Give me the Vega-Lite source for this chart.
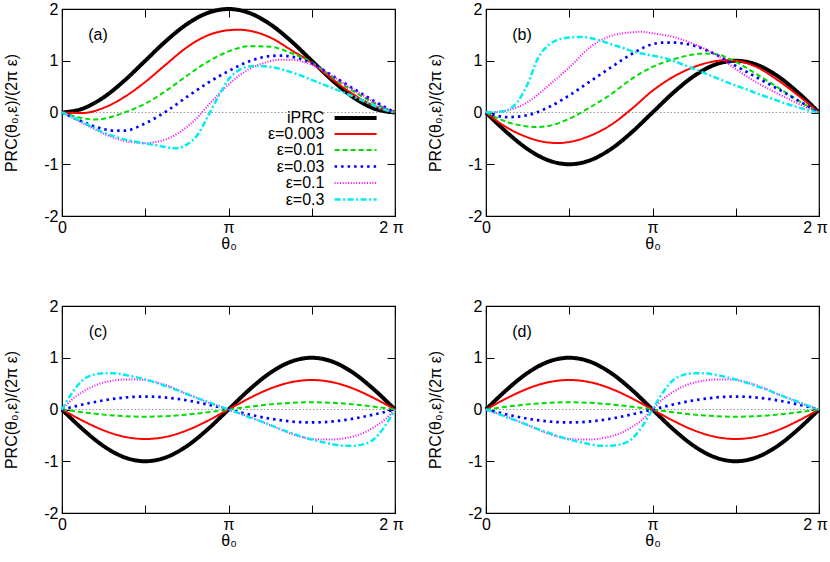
{
"$schema": "https://vega.github.io/schema/vega-lite/v6.json",
"padding": {"left": 3, "top": 0, "right": 0, "bottom": 0},
"background": "white",
"config": {
  "font": "Liberation Sans",
  "view": {"stroke": "black", "strokeWidth": 1.2},
  "axis": {"domain": false, "grid": false, "tickSize": 8, "offset": -8, "tickColor": "black", "tickWidth": 1, "labelFont": "Liberation Sans", "labelFontSize": 16, "labelColor": "black", "titleFont": "Liberation Sans", "titleFontSize": 16, "titleFontWeight": "normal", "titleColor": "black", "labelOverlap": false, "labelFlush": false, "labelBound": false},
  "legend": {"rowPadding": 0, "labelAlign": "right", "labelFontSize": 16, "labelFont": "Liberation Sans", "labelColor": "black", "labelLimit": 0, "padding": 0}
},
"datasets": {
"a": [
{"s":0,"x":0,"y":0},{"s":0,"x":0.125,"y":0.0761},{"s":0,"x":0.25,"y":0.2929},{"s":0,"x":0.375,"y":0.6173},{"s":0,"x":0.5,"y":1},{"s":0,"x":0.625,"y":1.3827},{"s":0,"x":0.75,"y":1.7071},{"s":0,"x":0.875,"y":1.9239},{"s":0,"x":1,"y":2},{"s":0,"x":1.125,"y":1.9239},{"s":0,"x":1.25,"y":1.7071},{"s":0,"x":1.375,"y":1.3827},{"s":0,"x":1.5,"y":1},{"s":0,"x":1.625,"y":0.6173},{"s":0,"x":1.75,"y":0.2929},{"s":0,"x":1.875,"y":0.0761},{"s":0,"x":2,"y":0},
{"s":1,"x":0,"y":0},{"s":1,"x":0.125,"y":-0.01},{"s":1,"x":0.25,"y":0.09},{"s":1,"x":0.375,"y":0.3},{"s":1,"x":0.5,"y":0.59},{"s":1,"x":0.625,"y":0.93},{"s":1,"x":0.75,"y":1.26},{"s":1,"x":0.875,"y":1.49},{"s":1,"x":1,"y":1.59},{"s":1,"x":1.0625,"y":1.6},{"s":1,"x":1.125,"y":1.58},{"s":1,"x":1.25,"y":1.45},{"s":1,"x":1.375,"y":1.21},{"s":1,"x":1.5,"y":0.96},{"s":1,"x":1.625,"y":0.64},{"s":1,"x":1.75,"y":0.35},{"s":1,"x":1.875,"y":0.13},{"s":1,"x":2,"y":0},
{"s":2,"x":0,"y":0},{"s":2,"x":0.0625,"y":-0.06},{"s":2,"x":0.125,"y":-0.11},{"s":2,"x":0.1875,"y":-0.135},{"s":2,"x":0.25,"y":-0.12},{"s":2,"x":0.3125,"y":-0.07},{"s":2,"x":0.375,"y":0},{"s":2,"x":0.5,"y":0.17},{"s":2,"x":0.625,"y":0.42},{"s":2,"x":0.75,"y":0.71},{"s":2,"x":0.875,"y":0.98},{"s":2,"x":1,"y":1.18},{"s":2,"x":1.125,"y":1.28},{"s":2,"x":1.25,"y":1.27},{"s":2,"x":1.375,"y":1.15},{"s":2,"x":1.5,"y":0.97},{"s":2,"x":1.625,"y":0.68},{"s":2,"x":1.75,"y":0.41},{"s":2,"x":1.875,"y":0.18},{"s":2,"x":2,"y":0},
{"s":3,"x":0,"y":0},{"s":3,"x":0.125,"y":-0.18},{"s":3,"x":0.25,"y":-0.32},{"s":3,"x":0.3125,"y":-0.35},{"s":3,"x":0.375,"y":-0.35},{"s":3,"x":0.5,"y":-0.21},{"s":3,"x":0.625,"y":0.02},{"s":3,"x":0.75,"y":0.3},{"s":3,"x":0.875,"y":0.57},{"s":3,"x":1,"y":0.8},{"s":3,"x":1.125,"y":0.99},{"s":3,"x":1.25,"y":1.09},{"s":3,"x":1.3125,"y":1.1},{"s":3,"x":1.375,"y":1.08},{"s":3,"x":1.5,"y":0.95},{"s":3,"x":1.625,"y":0.71},{"s":3,"x":1.75,"y":0.46},{"s":3,"x":1.875,"y":0.22},{"s":3,"x":2,"y":0},
{"s":4,"x":0,"y":0},{"s":4,"x":0.0625,"y":-0.1},{"s":4,"x":0.125,"y":-0.21},{"s":4,"x":0.1875,"y":-0.31},{"s":4,"x":0.25,"y":-0.41},{"s":4,"x":0.3125,"y":-0.49},{"s":4,"x":0.375,"y":-0.55},{"s":4,"x":0.4375,"y":-0.58},{"s":4,"x":0.5,"y":-0.59},{"s":4,"x":0.5625,"y":-0.57},{"s":4,"x":0.625,"y":-0.52},{"s":4,"x":0.6875,"y":-0.42},{"s":4,"x":0.75,"y":-0.28},{"s":4,"x":0.8125,"y":-0.1},{"s":4,"x":0.875,"y":0.13},{"s":4,"x":0.9375,"y":0.34},{"s":4,"x":1,"y":0.54},{"s":4,"x":1.0625,"y":0.71},{"s":4,"x":1.125,"y":0.84},{"s":4,"x":1.1875,"y":0.93},{"s":4,"x":1.25,"y":0.99},{"s":4,"x":1.3125,"y":1.02},{"s":4,"x":1.375,"y":1.02},{"s":4,"x":1.4375,"y":0.99},{"s":4,"x":1.5,"y":0.92},{"s":4,"x":1.5625,"y":0.82},{"s":4,"x":1.625,"y":0.7},{"s":4,"x":1.6875,"y":0.57},{"s":4,"x":1.75,"y":0.44},{"s":4,"x":1.8125,"y":0.32},{"s":4,"x":1.875,"y":0.2},{"s":4,"x":1.9375,"y":0.09},{"s":4,"x":2,"y":0},
{"s":5,"x":0,"y":0},{"s":5,"x":0.0625,"y":-0.09},{"s":5,"x":0.125,"y":-0.19},{"s":5,"x":0.1875,"y":-0.29},{"s":5,"x":0.25,"y":-0.39},{"s":5,"x":0.3125,"y":-0.46},{"s":5,"x":0.375,"y":-0.52},{"s":5,"x":0.4375,"y":-0.56},{"s":5,"x":0.5,"y":-0.6},{"s":5,"x":0.5625,"y":-0.63},{"s":5,"x":0.625,"y":-0.67},{"s":5,"x":0.6875,"y":-0.69},{"s":5,"x":0.75,"y":-0.62},{"s":5,"x":0.8125,"y":-0.44},{"s":5,"x":0.875,"y":-0.08},{"s":5,"x":0.9375,"y":0.3},{"s":5,"x":1,"y":0.64},{"s":5,"x":1.0625,"y":0.82},{"s":5,"x":1.125,"y":0.89},{"s":5,"x":1.1875,"y":0.9},{"s":5,"x":1.25,"y":0.88},{"s":5,"x":1.3125,"y":0.84},{"s":5,"x":1.375,"y":0.78},{"s":5,"x":1.4375,"y":0.71},{"s":5,"x":1.5,"y":0.63},{"s":5,"x":1.5625,"y":0.55},{"s":5,"x":1.625,"y":0.47},{"s":5,"x":1.6875,"y":0.39},{"s":5,"x":1.75,"y":0.31},{"s":5,"x":1.8125,"y":0.22},{"s":5,"x":1.875,"y":0.13},{"s":5,"x":1.9375,"y":0.05},{"s":5,"x":2,"y":0}
],
"b": [
{"s":0,"x":0,"y":0},{"s":0,"x":0.125,"y":-0.3827},{"s":0,"x":0.25,"y":-0.7071},{"s":0,"x":0.375,"y":-0.9239},{"s":0,"x":0.5,"y":-1},{"s":0,"x":0.625,"y":-0.9239},{"s":0,"x":0.75,"y":-0.7071},{"s":0,"x":0.875,"y":-0.3827},{"s":0,"x":1,"y":0},{"s":0,"x":1.125,"y":0.3827},{"s":0,"x":1.25,"y":0.7071},{"s":0,"x":1.375,"y":0.9239},{"s":0,"x":1.5,"y":1},{"s":0,"x":1.625,"y":0.9239},{"s":0,"x":1.75,"y":0.7071},{"s":0,"x":1.875,"y":0.3827},{"s":0,"x":2,"y":0},
{"s":1,"x":0,"y":0},{"s":1,"x":0.125,"y":-0.29},{"s":1,"x":0.25,"y":-0.48},{"s":1,"x":0.375,"y":-0.58},{"s":1,"x":0.4375,"y":-0.59},{"s":1,"x":0.5,"y":-0.57},{"s":1,"x":0.625,"y":-0.45},{"s":1,"x":0.75,"y":-0.24},{"s":1,"x":0.875,"y":0.07},{"s":1,"x":1,"y":0.42},{"s":1,"x":1.125,"y":0.69},{"s":1,"x":1.25,"y":0.88},{"s":1,"x":1.375,"y":0.99},{"s":1,"x":1.4375,"y":1.01},{"s":1,"x":1.5,"y":1},{"s":1,"x":1.625,"y":0.88},{"s":1,"x":1.75,"y":0.63},{"s":1,"x":1.875,"y":0.33},{"s":1,"x":2,"y":0},
{"s":2,"x":0,"y":0},{"s":2,"x":0.125,"y":-0.18},{"s":2,"x":0.25,"y":-0.27},{"s":2,"x":0.3125,"y":-0.28},{"s":2,"x":0.375,"y":-0.26},{"s":2,"x":0.5,"y":-0.12},{"s":2,"x":0.625,"y":0.1},{"s":2,"x":0.75,"y":0.35},{"s":2,"x":0.875,"y":0.65},{"s":2,"x":1,"y":0.88},{"s":2,"x":1.125,"y":1.03},{"s":2,"x":1.25,"y":1.12},{"s":2,"x":1.3125,"y":1.14},{"s":2,"x":1.375,"y":1.13},{"s":2,"x":1.5,"y":0.98},{"s":2,"x":1.625,"y":0.74},{"s":2,"x":1.75,"y":0.49},{"s":2,"x":1.875,"y":0.23},{"s":2,"x":2,"y":0},
{"s":3,"x":0,"y":0},{"s":3,"x":0.0625,"y":-0.06},{"s":3,"x":0.125,"y":-0.09},{"s":3,"x":0.1875,"y":-0.08},{"s":3,"x":0.25,"y":-0.05},{"s":3,"x":0.375,"y":0.1},{"s":3,"x":0.5,"y":0.33},{"s":3,"x":0.625,"y":0.6},{"s":3,"x":0.75,"y":0.87},{"s":3,"x":0.875,"y":1.13},{"s":3,"x":1,"y":1.32},{"s":3,"x":1.0625,"y":1.35},{"s":3,"x":1.125,"y":1.35},{"s":3,"x":1.25,"y":1.29},{"s":3,"x":1.375,"y":1.13},{"s":3,"x":1.5,"y":0.9},{"s":3,"x":1.625,"y":0.68},{"s":3,"x":1.75,"y":0.46},{"s":3,"x":1.875,"y":0.23},{"s":3,"x":2,"y":0},
{"s":4,"x":0,"y":0},{"s":4,"x":0.0625,"y":0.01},{"s":4,"x":0.125,"y":0.04},{"s":4,"x":0.1875,"y":0.1},{"s":4,"x":0.25,"y":0.2},{"s":4,"x":0.3125,"y":0.35},{"s":4,"x":0.375,"y":0.52},{"s":4,"x":0.5,"y":0.87},{"s":4,"x":0.625,"y":1.26},{"s":4,"x":0.75,"y":1.48},{"s":4,"x":0.875,"y":1.55},{"s":4,"x":0.9375,"y":1.56},{"s":4,"x":1,"y":1.53},{"s":4,"x":1.125,"y":1.46},{"s":4,"x":1.25,"y":1.32},{"s":4,"x":1.375,"y":1.13},{"s":4,"x":1.5,"y":0.84},{"s":4,"x":1.625,"y":0.58},{"s":4,"x":1.75,"y":0.37},{"s":4,"x":1.875,"y":0.17},{"s":4,"x":2,"y":0},
{"s":5,"x":0,"y":0},{"s":5,"x":0.0625,"y":0.01},{"s":5,"x":0.125,"y":0.04},{"s":5,"x":0.1875,"y":0.2},{"s":5,"x":0.25,"y":0.55},{"s":5,"x":0.3125,"y":1.05},{"s":5,"x":0.375,"y":1.3},{"s":5,"x":0.4375,"y":1.41},{"s":5,"x":0.5,"y":1.45},{"s":5,"x":0.5625,"y":1.46},{"s":5,"x":0.625,"y":1.44},{"s":5,"x":0.6875,"y":1.39},{"s":5,"x":0.75,"y":1.32},{"s":5,"x":0.8125,"y":1.26},{"s":5,"x":0.875,"y":1.19},{"s":5,"x":0.9375,"y":1.14},{"s":5,"x":1,"y":1.1},{"s":5,"x":1.0625,"y":1.06},{"s":5,"x":1.125,"y":1},{"s":5,"x":1.1875,"y":0.92},{"s":5,"x":1.25,"y":0.84},{"s":5,"x":1.3125,"y":0.76},{"s":5,"x":1.375,"y":0.68},{"s":5,"x":1.4375,"y":0.6},{"s":5,"x":1.5,"y":0.52},{"s":5,"x":1.5625,"y":0.45},{"s":5,"x":1.625,"y":0.37},{"s":5,"x":1.6875,"y":0.3},{"s":5,"x":1.75,"y":0.23},{"s":5,"x":1.8125,"y":0.16},{"s":5,"x":1.875,"y":0.1},{"s":5,"x":1.9375,"y":0.04},{"s":5,"x":2,"y":0}
],
"c": [
{"s":0,"x":0,"y":0},{"s":0,"x":0.125,"y":-0.3827},{"s":0,"x":0.25,"y":-0.7071},{"s":0,"x":0.375,"y":-0.9239},{"s":0,"x":0.5,"y":-1},{"s":0,"x":0.625,"y":-0.9239},{"s":0,"x":0.75,"y":-0.7071},{"s":0,"x":0.875,"y":-0.3827},{"s":0,"x":1,"y":0},{"s":0,"x":1.125,"y":0.3827},{"s":0,"x":1.25,"y":0.7071},{"s":0,"x":1.375,"y":0.9239},{"s":0,"x":1.5,"y":1},{"s":0,"x":1.625,"y":0.9239},{"s":0,"x":1.75,"y":0.7071},{"s":0,"x":1.875,"y":0.3827},{"s":0,"x":2,"y":0},
{"s":1,"x":0,"y":0},{"s":1,"x":0.125,"y":-0.218},{"s":1,"x":0.25,"y":-0.403},{"s":1,"x":0.375,"y":-0.527},{"s":1,"x":0.5,"y":-0.57},{"s":1,"x":0.625,"y":-0.527},{"s":1,"x":0.75,"y":-0.403},{"s":1,"x":0.875,"y":-0.218},{"s":1,"x":1,"y":0},{"s":1,"x":1.125,"y":0.218},{"s":1,"x":1.25,"y":0.403},{"s":1,"x":1.375,"y":0.527},{"s":1,"x":1.5,"y":0.57},{"s":1,"x":1.625,"y":0.527},{"s":1,"x":1.75,"y":0.403},{"s":1,"x":1.875,"y":0.218},{"s":1,"x":2,"y":0},
{"s":2,"x":0,"y":0},{"s":2,"x":0.125,"y":-0.054},{"s":2,"x":0.25,"y":-0.099},{"s":2,"x":0.375,"y":-0.129},{"s":2,"x":0.5,"y":-0.14},{"s":2,"x":0.625,"y":-0.129},{"s":2,"x":0.75,"y":-0.099},{"s":2,"x":0.875,"y":-0.054},{"s":2,"x":1,"y":0},{"s":2,"x":1.125,"y":0.054},{"s":2,"x":1.25,"y":0.099},{"s":2,"x":1.375,"y":0.129},{"s":2,"x":1.5,"y":0.14},{"s":2,"x":1.625,"y":0.129},{"s":2,"x":1.75,"y":0.099},{"s":2,"x":1.875,"y":0.054},{"s":2,"x":2,"y":0},
{"s":3,"x":0,"y":0},{"s":3,"x":0.125,"y":0.096},{"s":3,"x":0.25,"y":0.177},{"s":3,"x":0.375,"y":0.231},{"s":3,"x":0.5,"y":0.25},{"s":3,"x":0.625,"y":0.231},{"s":3,"x":0.75,"y":0.177},{"s":3,"x":0.875,"y":0.096},{"s":3,"x":1,"y":0},{"s":3,"x":1.125,"y":-0.096},{"s":3,"x":1.25,"y":-0.177},{"s":3,"x":1.375,"y":-0.231},{"s":3,"x":1.5,"y":-0.25},{"s":3,"x":1.625,"y":-0.231},{"s":3,"x":1.75,"y":-0.177},{"s":3,"x":1.875,"y":-0.096},{"s":3,"x":2,"y":0},
{"s":4,"x":0,"y":0},{"s":4,"x":0.0625,"y":0.2},{"s":4,"x":0.125,"y":0.34},{"s":4,"x":0.1875,"y":0.45},{"s":4,"x":0.25,"y":0.52},{"s":4,"x":0.3125,"y":0.56},{"s":4,"x":0.375,"y":0.58},{"s":4,"x":0.4375,"y":0.58},{"s":4,"x":0.5,"y":0.57},{"s":4,"x":0.5625,"y":0.53},{"s":4,"x":0.625,"y":0.47},{"s":4,"x":0.6875,"y":0.39},{"s":4,"x":0.75,"y":0.3},{"s":4,"x":0.8125,"y":0.22},{"s":4,"x":0.875,"y":0.14},{"s":4,"x":0.9375,"y":0.07},{"s":4,"x":1,"y":0},{"s":4,"x":1.0625,"y":-0.07},{"s":4,"x":1.125,"y":-0.14},{"s":4,"x":1.1875,"y":-0.22},{"s":4,"x":1.25,"y":-0.3},{"s":4,"x":1.3125,"y":-0.39},{"s":4,"x":1.375,"y":-0.47},{"s":4,"x":1.4375,"y":-0.53},{"s":4,"x":1.5,"y":-0.57},{"s":4,"x":1.5625,"y":-0.58},{"s":4,"x":1.625,"y":-0.58},{"s":4,"x":1.6875,"y":-0.56},{"s":4,"x":1.75,"y":-0.52},{"s":4,"x":1.8125,"y":-0.45},{"s":4,"x":1.875,"y":-0.34},{"s":4,"x":1.9375,"y":-0.2},{"s":4,"x":2,"y":0},
{"s":5,"x":0,"y":0},{"s":5,"x":0.0625,"y":0.33},{"s":5,"x":0.125,"y":0.57},{"s":5,"x":0.1875,"y":0.67},{"s":5,"x":0.25,"y":0.7},{"s":5,"x":0.3125,"y":0.7},{"s":5,"x":0.375,"y":0.67},{"s":5,"x":0.4375,"y":0.63},{"s":5,"x":0.5,"y":0.58},{"s":5,"x":0.5625,"y":0.52},{"s":5,"x":0.625,"y":0.45},{"s":5,"x":0.6875,"y":0.38},{"s":5,"x":0.75,"y":0.3},{"s":5,"x":0.8125,"y":0.22},{"s":5,"x":0.875,"y":0.15},{"s":5,"x":0.9375,"y":0.07},{"s":5,"x":1,"y":0},{"s":5,"x":1.0625,"y":-0.07},{"s":5,"x":1.125,"y":-0.15},{"s":5,"x":1.1875,"y":-0.22},{"s":5,"x":1.25,"y":-0.3},{"s":5,"x":1.3125,"y":-0.38},{"s":5,"x":1.375,"y":-0.45},{"s":5,"x":1.4375,"y":-0.52},{"s":5,"x":1.5,"y":-0.58},{"s":5,"x":1.5625,"y":-0.63},{"s":5,"x":1.625,"y":-0.67},{"s":5,"x":1.6875,"y":-0.7},{"s":5,"x":1.75,"y":-0.7},{"s":5,"x":1.8125,"y":-0.67},{"s":5,"x":1.875,"y":-0.57},{"s":5,"x":1.9375,"y":-0.33},{"s":5,"x":2,"y":0}
],
"d": [
{"s":0,"x":0,"y":0},{"s":0,"x":0.125,"y":0.3827},{"s":0,"x":0.25,"y":0.7071},{"s":0,"x":0.375,"y":0.9239},{"s":0,"x":0.5,"y":1},{"s":0,"x":0.625,"y":0.9239},{"s":0,"x":0.75,"y":0.7071},{"s":0,"x":0.875,"y":0.3827},{"s":0,"x":1,"y":0},{"s":0,"x":1.125,"y":-0.3827},{"s":0,"x":1.25,"y":-0.7071},{"s":0,"x":1.375,"y":-0.9239},{"s":0,"x":1.5,"y":-1},{"s":0,"x":1.625,"y":-0.9239},{"s":0,"x":1.75,"y":-0.7071},{"s":0,"x":1.875,"y":-0.3827},{"s":0,"x":2,"y":0},
{"s":1,"x":0,"y":0},{"s":1,"x":0.125,"y":0.218},{"s":1,"x":0.25,"y":0.403},{"s":1,"x":0.375,"y":0.527},{"s":1,"x":0.5,"y":0.57},{"s":1,"x":0.625,"y":0.527},{"s":1,"x":0.75,"y":0.403},{"s":1,"x":0.875,"y":0.218},{"s":1,"x":1,"y":0},{"s":1,"x":1.125,"y":-0.218},{"s":1,"x":1.25,"y":-0.403},{"s":1,"x":1.375,"y":-0.527},{"s":1,"x":1.5,"y":-0.57},{"s":1,"x":1.625,"y":-0.527},{"s":1,"x":1.75,"y":-0.403},{"s":1,"x":1.875,"y":-0.218},{"s":1,"x":2,"y":0},
{"s":2,"x":0,"y":0},{"s":2,"x":0.125,"y":0.054},{"s":2,"x":0.25,"y":0.099},{"s":2,"x":0.375,"y":0.129},{"s":2,"x":0.5,"y":0.14},{"s":2,"x":0.625,"y":0.129},{"s":2,"x":0.75,"y":0.099},{"s":2,"x":0.875,"y":0.054},{"s":2,"x":1,"y":0},{"s":2,"x":1.125,"y":-0.054},{"s":2,"x":1.25,"y":-0.099},{"s":2,"x":1.375,"y":-0.129},{"s":2,"x":1.5,"y":-0.14},{"s":2,"x":1.625,"y":-0.129},{"s":2,"x":1.75,"y":-0.099},{"s":2,"x":1.875,"y":-0.054},{"s":2,"x":2,"y":0},
{"s":3,"x":0,"y":0},{"s":3,"x":0.125,"y":-0.096},{"s":3,"x":0.25,"y":-0.177},{"s":3,"x":0.375,"y":-0.231},{"s":3,"x":0.5,"y":-0.25},{"s":3,"x":0.625,"y":-0.231},{"s":3,"x":0.75,"y":-0.177},{"s":3,"x":0.875,"y":-0.096},{"s":3,"x":1,"y":0},{"s":3,"x":1.125,"y":0.096},{"s":3,"x":1.25,"y":0.177},{"s":3,"x":1.375,"y":0.231},{"s":3,"x":1.5,"y":0.25},{"s":3,"x":1.625,"y":0.231},{"s":3,"x":1.75,"y":0.177},{"s":3,"x":1.875,"y":0.096},{"s":3,"x":2,"y":0},
{"s":4,"x":0,"y":0},{"s":4,"x":0.0625,"y":-0.07},{"s":4,"x":0.125,"y":-0.14},{"s":4,"x":0.1875,"y":-0.22},{"s":4,"x":0.25,"y":-0.3},{"s":4,"x":0.3125,"y":-0.39},{"s":4,"x":0.375,"y":-0.47},{"s":4,"x":0.4375,"y":-0.53},{"s":4,"x":0.5,"y":-0.57},{"s":4,"x":0.5625,"y":-0.58},{"s":4,"x":0.625,"y":-0.58},{"s":4,"x":0.6875,"y":-0.56},{"s":4,"x":0.75,"y":-0.52},{"s":4,"x":0.8125,"y":-0.45},{"s":4,"x":0.875,"y":-0.34},{"s":4,"x":0.9375,"y":-0.2},{"s":4,"x":1,"y":0},{"s":4,"x":1.0625,"y":0.2},{"s":4,"x":1.125,"y":0.34},{"s":4,"x":1.1875,"y":0.45},{"s":4,"x":1.25,"y":0.52},{"s":4,"x":1.3125,"y":0.56},{"s":4,"x":1.375,"y":0.58},{"s":4,"x":1.4375,"y":0.58},{"s":4,"x":1.5,"y":0.57},{"s":4,"x":1.5625,"y":0.53},{"s":4,"x":1.625,"y":0.47},{"s":4,"x":1.6875,"y":0.39},{"s":4,"x":1.75,"y":0.3},{"s":4,"x":1.8125,"y":0.22},{"s":4,"x":1.875,"y":0.14},{"s":4,"x":1.9375,"y":0.07},{"s":4,"x":2,"y":0},
{"s":5,"x":0,"y":0},{"s":5,"x":0.0625,"y":-0.07},{"s":5,"x":0.125,"y":-0.15},{"s":5,"x":0.1875,"y":-0.22},{"s":5,"x":0.25,"y":-0.3},{"s":5,"x":0.3125,"y":-0.38},{"s":5,"x":0.375,"y":-0.45},{"s":5,"x":0.4375,"y":-0.52},{"s":5,"x":0.5,"y":-0.58},{"s":5,"x":0.5625,"y":-0.63},{"s":5,"x":0.625,"y":-0.67},{"s":5,"x":0.6875,"y":-0.7},{"s":5,"x":0.75,"y":-0.7},{"s":5,"x":0.8125,"y":-0.67},{"s":5,"x":0.875,"y":-0.57},{"s":5,"x":0.9375,"y":-0.33},{"s":5,"x":1,"y":0},{"s":5,"x":1.0625,"y":0.33},{"s":5,"x":1.125,"y":0.57},{"s":5,"x":1.1875,"y":0.67},{"s":5,"x":1.25,"y":0.7},{"s":5,"x":1.3125,"y":0.7},{"s":5,"x":1.375,"y":0.67},{"s":5,"x":1.4375,"y":0.63},{"s":5,"x":1.5,"y":0.58},{"s":5,"x":1.5625,"y":0.52},{"s":5,"x":1.625,"y":0.45},{"s":5,"x":1.6875,"y":0.38},{"s":5,"x":1.75,"y":0.3},{"s":5,"x":1.8125,"y":0.22},{"s":5,"x":1.875,"y":0.15},{"s":5,"x":1.9375,"y":0.07},{"s":5,"x":2,"y":0}
]
},
"columns": 2,
"spacing": {"row": 90, "column": 91},
"bounds": "flush",
"resolve": {"scale": {"color": "independent", "strokeDash": "independent", "strokeWidth": "independent"}, "legend": {"color": "independent", "strokeDash": "independent", "strokeWidth": "independent"}},
"concat": [
{
 "width": 333, "height": 207,
 "layer": [
  {"data": {"values": [{}]}, "mark": {"type": "rule", "color": "#999999", "strokeWidth": 1, "strokeDash": [1.5, 2]}, "encoding": {"y": {"datum": 0, "type": "quantitative", "scale": {"domain": [-2, 2], "nice": false}, "axis": null}}},
  {"data": {"name": "a"}, "mark": {"type": "line", "interpolate": "monotone"}, "encoding": {
    "x": {"field": "x", "type": "quantitative", "scale": {"domain": [0, 2], "nice": false}, "axis": {"orient": "bottom", "values": [0, 0.5, 1, 1.5, 2], "labelExpr": "datum.value == 0 ? '0' : datum.value == 1 ? 'π' : datum.value == 2 ? '2 π' : ''", "labelOffset": {"condition": {"test": "datum.value == 2", "value": -4}, "value": 0}, "labelPadding": 3, "title": "θ₀", "titlePadding": 0}},
    "y": {"field": "y", "type": "quantitative", "scale": {"domain": [-2, 2], "nice": false}, "axis": {"orient": "left", "values": [-2, -1, 0, 1, 2], "labelExpr": "'' + datum.value", "labelPadding": 4, "title": "PRC(θ₀,ε)/(2π ε)", "titlePadding": 24}},
    "color": {"field": "s", "type": "nominal", "scale": {"domain": [0, 1, 2, 3, 4, 5], "range": ["#000000", "#ff0000", "#00dd00", "#0000ff", "#ff00ff", "#00eeee"]}, "legend": {"orient": "none", "legendX": 284.6, "legendY": 100, "title": null, "symbolType": "M-3,0H3", "symbolSize": 196, "labelOffset": -40.2, "labelExpr": "['iPRC','ε=0.003','ε=0.01','ε=0.03','ε=0.1','ε=0.3'][datum.value]"}},
    "strokeDash": {"field": "s", "type": "nominal", "scale": {"domain": [0, 1, 2, 3, 4, 5], "range": [[1, 0], [1, 0], [5, 3], [2.5, 4], [1, 1.7], [6, 2.5, 2, 2.5]]}, "legend": {"orient": "none", "legendX": 284.6, "legendY": 100, "title": null, "symbolType": "M-3,0H3", "symbolSize": 196, "labelOffset": -40.2, "labelExpr": "['iPRC','ε=0.003','ε=0.01','ε=0.03','ε=0.1','ε=0.3'][datum.value]"}},
    "strokeWidth": {"field": "s", "type": "nominal", "scale": {"type": "ordinal", "domain": [0, 1, 2, 3, 4, 5], "range": [4, 2, 2, 2.7, 2, 2.5]}, "legend": {"orient": "none", "legendX": 284.6, "legendY": 100, "title": null, "symbolType": "M-3,0H3", "symbolSize": 196, "labelOffset": -40.2, "labelExpr": "['iPRC','ε=0.003','ε=0.01','ε=0.03','ε=0.1','ε=0.3'][datum.value]"}}
  }},
  {"data": {"values": [{}]}, "mark": {"type": "text", "text": "(a)", "fontSize": 16, "font": "Liberation Sans", "color": "black"}, "encoding": {
    "x": {"datum": 0.216, "type": "quantitative", "scale": {"domain": [0, 2], "nice": false}, "axis": {"orient": "top", "values": [0, 0.5, 1, 1.5, 2], "labels": false, "title": null}},
    "y": {"datum": 1.49, "type": "quantitative", "scale": {"domain": [-2, 2], "nice": false}, "axis": {"orient": "right", "values": [-2, -1, 0, 1, 2], "labels": false, "title": null}}}}
 ],
 "resolve": {"axis": {"x": "independent", "y": "independent"}}
},
{
 "width": 333, "height": 207,
 "layer": [
  {"data": {"values": [{}]}, "mark": {"type": "rule", "color": "#999999", "strokeWidth": 1, "strokeDash": [1.5, 2]}, "encoding": {"y": {"datum": 0, "type": "quantitative", "scale": {"domain": [-2, 2], "nice": false}, "axis": null}}},
  {"data": {"name": "b"}, "mark": {"type": "line", "interpolate": "monotone"}, "encoding": {
    "x": {"field": "x", "type": "quantitative", "scale": {"domain": [0, 2], "nice": false}, "axis": {"orient": "bottom", "values": [0, 0.5, 1, 1.5, 2], "labelExpr": "datum.value == 0 ? '0' : datum.value == 1 ? 'π' : datum.value == 2 ? '2 π' : ''", "labelOffset": {"condition": {"test": "datum.value == 2", "value": -4}, "value": 0}, "labelPadding": 3, "title": "θ₀", "titlePadding": 0}},
    "y": {"field": "y", "type": "quantitative", "scale": {"domain": [-2, 2], "nice": false}, "axis": {"orient": "left", "values": [-2, -1, 0, 1, 2], "labelExpr": "'' + datum.value", "labelPadding": 4, "title": "PRC(θ₀,ε)/(2π ε)", "titlePadding": 24}},
    "color": {"field": "s", "type": "nominal", "scale": {"domain": [0, 1, 2, 3, 4, 5], "range": ["#000000", "#ff0000", "#00dd00", "#0000ff", "#ff00ff", "#00eeee"]}, "legend": null},
    "strokeDash": {"field": "s", "type": "nominal", "scale": {"domain": [0, 1, 2, 3, 4, 5], "range": [[1, 0], [1, 0], [5, 3], [2.5, 4], [1, 1.7], [6, 2.5, 2, 2.5]]}, "legend": null},
    "strokeWidth": {"field": "s", "type": "nominal", "scale": {"type": "ordinal", "domain": [0, 1, 2, 3, 4, 5], "range": [4, 2, 2, 2.7, 2, 2.5]}, "legend": null}
  }},
  {"data": {"values": [{}]}, "mark": {"type": "text", "text": "(b)", "fontSize": 16, "font": "Liberation Sans", "color": "black"}, "encoding": {
    "x": {"datum": 0.216, "type": "quantitative", "scale": {"domain": [0, 2], "nice": false}, "axis": {"orient": "top", "values": [0, 0.5, 1, 1.5, 2], "labels": false, "title": null}},
    "y": {"datum": 1.49, "type": "quantitative", "scale": {"domain": [-2, 2], "nice": false}, "axis": {"orient": "right", "values": [-2, -1, 0, 1, 2], "labels": false, "title": null}}}}
 ],
 "resolve": {"axis": {"x": "independent", "y": "independent"}}
},
{
 "width": 333, "height": 207,
 "layer": [
  {"data": {"values": [{}]}, "mark": {"type": "rule", "color": "#999999", "strokeWidth": 1, "strokeDash": [1.5, 2]}, "encoding": {"y": {"datum": 0, "type": "quantitative", "scale": {"domain": [-2, 2], "nice": false}, "axis": null}}},
  {"data": {"name": "c"}, "mark": {"type": "line", "interpolate": "monotone"}, "encoding": {
    "x": {"field": "x", "type": "quantitative", "scale": {"domain": [0, 2], "nice": false}, "axis": {"orient": "bottom", "values": [0, 0.5, 1, 1.5, 2], "labelExpr": "datum.value == 0 ? '0' : datum.value == 1 ? 'π' : datum.value == 2 ? '2 π' : ''", "labelOffset": {"condition": {"test": "datum.value == 2", "value": -4}, "value": 0}, "labelPadding": 3, "title": "θ₀", "titlePadding": 0}},
    "y": {"field": "y", "type": "quantitative", "scale": {"domain": [-2, 2], "nice": false}, "axis": {"orient": "left", "values": [-2, -1, 0, 1, 2], "labelExpr": "'' + datum.value", "labelPadding": 4, "title": "PRC(θ₀,ε)/(2π ε)", "titlePadding": 24}},
    "color": {"field": "s", "type": "nominal", "scale": {"domain": [0, 1, 2, 3, 4, 5], "range": ["#000000", "#ff0000", "#00dd00", "#0000ff", "#ff00ff", "#00eeee"]}, "legend": null},
    "strokeDash": {"field": "s", "type": "nominal", "scale": {"domain": [0, 1, 2, 3, 4, 5], "range": [[1, 0], [1, 0], [5, 3], [2.5, 4], [1, 1.7], [6, 2.5, 2, 2.5]]}, "legend": null},
    "strokeWidth": {"field": "s", "type": "nominal", "scale": {"type": "ordinal", "domain": [0, 1, 2, 3, 4, 5], "range": [4, 2, 2, 2.7, 2, 2.5]}, "legend": null}
  }},
  {"data": {"values": [{}]}, "mark": {"type": "text", "text": "(c)", "fontSize": 16, "font": "Liberation Sans", "color": "black"}, "encoding": {
    "x": {"datum": 0.216, "type": "quantitative", "scale": {"domain": [0, 2], "nice": false}, "axis": {"orient": "top", "values": [0, 0.5, 1, 1.5, 2], "labels": false, "title": null}},
    "y": {"datum": 1.49, "type": "quantitative", "scale": {"domain": [-2, 2], "nice": false}, "axis": {"orient": "right", "values": [-2, -1, 0, 1, 2], "labels": false, "title": null}}}}
 ],
 "resolve": {"axis": {"x": "independent", "y": "independent"}}
},
{
 "width": 333, "height": 207,
 "layer": [
  {"data": {"values": [{}]}, "mark": {"type": "rule", "color": "#999999", "strokeWidth": 1, "strokeDash": [1.5, 2]}, "encoding": {"y": {"datum": 0, "type": "quantitative", "scale": {"domain": [-2, 2], "nice": false}, "axis": null}}},
  {"data": {"name": "d"}, "mark": {"type": "line", "interpolate": "monotone"}, "encoding": {
    "x": {"field": "x", "type": "quantitative", "scale": {"domain": [0, 2], "nice": false}, "axis": {"orient": "bottom", "values": [0, 0.5, 1, 1.5, 2], "labelExpr": "datum.value == 0 ? '0' : datum.value == 1 ? 'π' : datum.value == 2 ? '2 π' : ''", "labelOffset": {"condition": {"test": "datum.value == 2", "value": -4}, "value": 0}, "labelPadding": 3, "title": "θ₀", "titlePadding": 0}},
    "y": {"field": "y", "type": "quantitative", "scale": {"domain": [-2, 2], "nice": false}, "axis": {"orient": "left", "values": [-2, -1, 0, 1, 2], "labelExpr": "'' + datum.value", "labelPadding": 4, "title": "PRC(θ₀,ε)/(2π ε)", "titlePadding": 24}},
    "color": {"field": "s", "type": "nominal", "scale": {"domain": [0, 1, 2, 3, 4, 5], "range": ["#000000", "#ff0000", "#00dd00", "#0000ff", "#ff00ff", "#00eeee"]}, "legend": null},
    "strokeDash": {"field": "s", "type": "nominal", "scale": {"domain": [0, 1, 2, 3, 4, 5], "range": [[1, 0], [1, 0], [5, 3], [2.5, 4], [1, 1.7], [6, 2.5, 2, 2.5]]}, "legend": null},
    "strokeWidth": {"field": "s", "type": "nominal", "scale": {"type": "ordinal", "domain": [0, 1, 2, 3, 4, 5], "range": [4, 2, 2, 2.7, 2, 2.5]}, "legend": null}
  }},
  {"data": {"values": [{}]}, "mark": {"type": "text", "text": "(d)", "fontSize": 16, "font": "Liberation Sans", "color": "black"}, "encoding": {
    "x": {"datum": 0.216, "type": "quantitative", "scale": {"domain": [0, 2], "nice": false}, "axis": {"orient": "top", "values": [0, 0.5, 1, 1.5, 2], "labels": false, "title": null}},
    "y": {"datum": 1.49, "type": "quantitative", "scale": {"domain": [-2, 2], "nice": false}, "axis": {"orient": "right", "values": [-2, -1, 0, 1, 2], "labels": false, "title": null}}}}
 ],
 "resolve": {"axis": {"x": "independent", "y": "independent"}}
}
]
}
